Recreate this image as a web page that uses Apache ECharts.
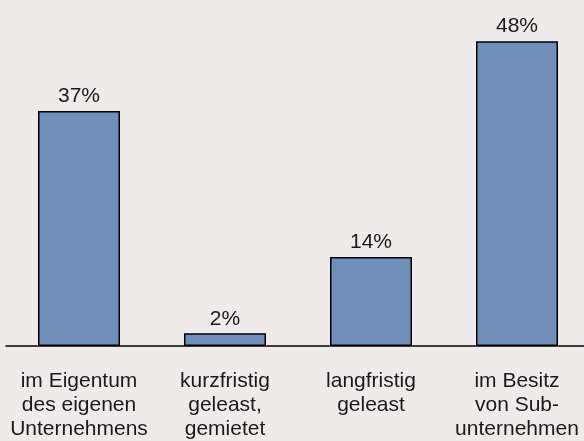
<!DOCTYPE html>
<html>
<head>
<meta charset="utf-8">
<style>
  html, body { margin:0; padding:0; background:#eeebea; }
  #chart { width:584px; height:441px; }
</style>
<script src="https://cdn.jsdelivr.net/npm/echarts@6/dist/echarts.min.js"></script>
</head>
<body>
<div id="chart"></div>
<script>
  // Kategorien und Anteile (%)
  var categories = [
    "im Eigentum\ndes eigenen\nUnternehmens",
    "kurzfristig\ngeleast,\ngemietet",
    "langfristig\ngeleast",
    "im Besitz\nvon Sub-\nunternehmen"
  ];
  var shares = [37, 2, 14, 48];

  var FONT = "Liberation Sans, Arial, sans-serif";
  var chart = echarts.init(document.getElementById("chart"), null, { renderer: "canvas" });
  chart.setOption({
    backgroundColor: "#eeebea",
    animation: false,
    grid: { left: 6, width: 584, top: 28.5, height: 317.5, containLabel: false, outerBoundsMode: "none" },
    xAxis: {
      type: "category",
      data: categories,
      axisLine: { show: true, lineStyle: { color: "#000", width: 1.5 } },
      axisTick: { show: false },
      axisLabel: {
        interval: 0, margin: 23, color: "#1a1a1a",
        fontFamily: FONT, fontSize: 21, lineHeight: 24
      }
    },
    yAxis: {
      type: "value", min: 0, max: 50,
      show: false, splitLine: { show: false }
    },
    series: [{
      type: "bar",
      data: shares,
      barWidth: 82,
      itemStyle: { color: "#6f8eb9", borderColor: "#000", borderWidth: 1.5 },
      label: {
        show: true, position: "top", distance: 4,
        formatter: "{c}%", color: "#1a1a1a",
        fontFamily: FONT, fontSize: 21
      }
    }]
  });
</script>
</body>
</html>
